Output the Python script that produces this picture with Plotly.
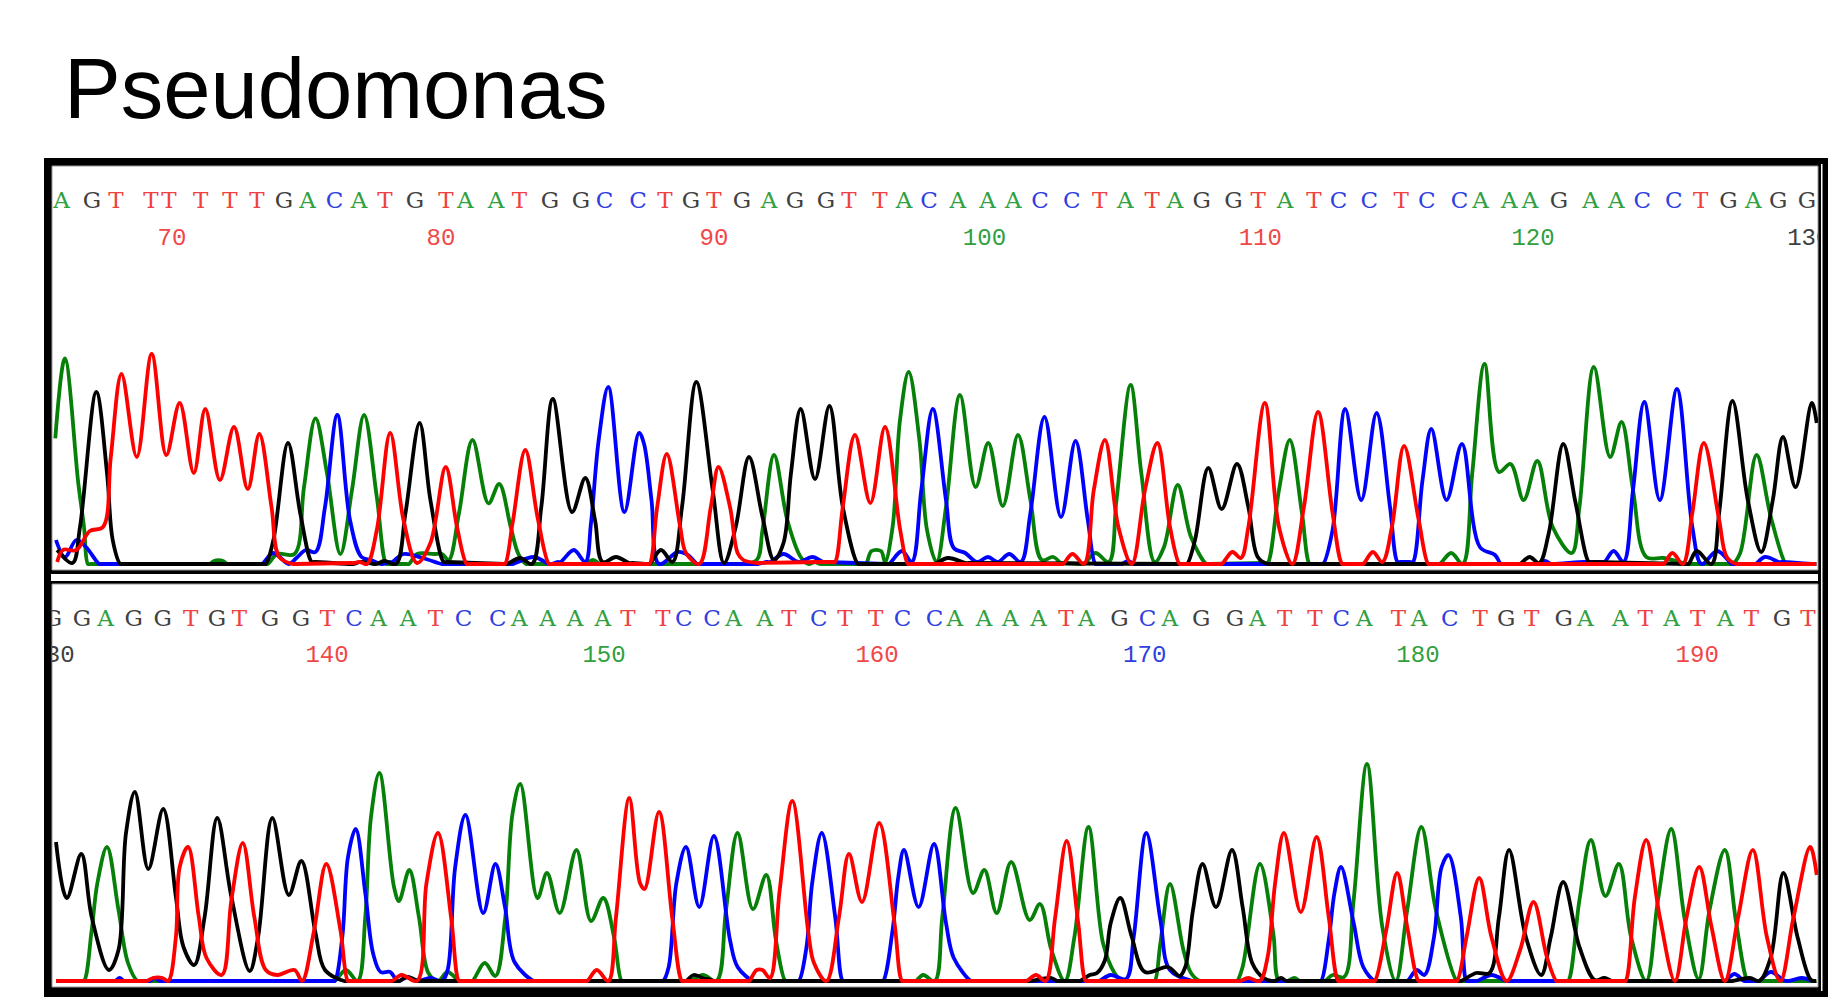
import plotly.graph_objects as go

W, H = 1835, 1004

title_text = "Pseudomonas"

# ---------- upper panel: scan position and signal height per channel ----------
top_green_x = [55.3,64.9,78.3,84,88,210,214,223,227,267.7,277.3,294.5,304,315.5,327,340.4,352,364.1,376.8,386.3,409,417,434,442,448.7,459,472.5,488.5,499.2,510.7,518.4,526,549,585,593,600,740,756.7,762.5,774,787.3,800.7,808.4,815,820,826,866,871.5,881,885,892.6,900,908.7,919.4,927,936.6,946,960,975.6,988.3,1002.8,1018,1030.4,1041.8,1053.3,1061,1084,1095.4,1108.8,1116.5,1130.6,1141.3,1154.7,1164,1177.7,1191,1206.4,1268,1279.5,1290.4,1302.7,1310.5,1442,1453.7,1465.3,1475,1487.4,1502,1513.7,1527,1540.8,1556.3,1575.6,1583.4,1598,1614.4,1626,1637.6,1651,1668.6,1692,1738,1746,1762.6,1777,1792.4,1823]
top_green_h = [125.7,205.7,80.7,37,0,0,3,3,0,0,10,10,77,145.7,90.7,10,74,149,67,0,0,10,10,10,4,51,124,60.7,80,37,10,0,0,0,4,0,0,4,34,109,44,7,0,2,0,0,0,13,13,2,37,144,192,124,34,2,57,169,77,121,58,129,64,4,7,1,0,11,2,64,179,91,2,17,79,27,0,1,74,124,51,0,0,11,0,91,200,92,100,64,103,37,11,57,197,107,142,74,7,6,0,0,11,109,47,0,0]

top_black_x = [57.2,72.5,80,96.3,107,112.7,120.4,265.8,273.4,288,300.2,311.7,354,359.6,376.8,384.4,396,405.5,419.6,430.4,443.7,507,520,532,541.3,552.8,572,585.3,595,602.6,616,629.3,649.6,661,672.5,682,696.3,712.7,724,735.7,749,762.5,774,783.5,791,800.7,815,829.4,842.8,858,934.7,948,965.3,1187,1195,1208.3,1221.7,1237,1248.5,1258,1268,1523,1533,1542.7,1552.4,1567,1579.5,1593,1693.7,1702,1717,1724.7,1738.2,1753.7,1767.3,1779,1789.3,1802,1818.4,1823.4]
top_black_h = [14,1,37,172,91,24,0,0,24,121,51,2,0,2,0,3,0,51,141,64,2,0,6,0,57,165,52,86,44,2,7,1,0,14,2,57,182,74,1,37,107,47,4,21,91,155,85,158,57,0,0,6,1,0,24,96,55,100,57,7,0,0,7,1,31,120,61,2,0,13,0,51,163,64,12,64,127,77,161,141]

top_blue_x = [56,65,76.4,86,99.3,262,273.4,288.8,296.4,306,315.5,325,337.3,350,361.5,371,380.6,392,403.5,422.7,442,512.6,533.7,549,560.5,573.9,585.3,591,598.7,608.3,624.4,639,643.8,651.5,659,678,687.8,697.4,754.8,770,783.5,798.8,812.2,823.7,888.8,902,911.7,921.3,932.8,946,953.8,965.3,976.8,988,997.8,1009.3,1020.8,1030.4,1044.5,1061,1075.5,1087.8,1095.4,1122,1128,1133.7,1324,1333.7,1346.5,1362.7,1378.2,1391.8,1399.5,1415,1424.7,1433.6,1449,1464.6,1482.7,1498,1504,1542,1548.6,1554.4,1591,1608.6,1618,1628,1637.6,1649,1664.7,1682,1697.6,1707,1722.8,1738,1761.5,1771,1785,1823]
top_blue_h = [24,7,24,17,0,0,11,0,6,14,12,57,149,44,7,4,0,2,10,6,0,0,7,0,2,14,2,41,124,177,52,131,121,64,0,12,9,0,0,2,10,2,7,2,0,13,2,74,155,64,16,11,2,7,2,10,2,51,147,47,123,44,0,0,3,0,0,34,155,64,151,57,2,2,84,135,64,120,17,9,0,0,3,0,2,2,13,2,74,162,64,175,37,0,13,0,0,7,2,0]

top_red_x = [57.2,63,76.4,89.8,103,110.8,121.5,136.8,151.7,166.3,179.7,193.8,205.3,219.9,234,247.8,259.3,271.5,279.2,292.6,353.8,360,367,376.8,390.2,403.5,417,430.4,445.7,457,466.7,505,512.6,525.3,537.5,549,649.6,657.2,666.8,680.2,686,699.3,710.8,718.5,730,737.6,743.3,756.7,820,835,842.8,855,870.4,885,900.2,908,1063,1072.4,1084,1093.8,1105,1118.4,1131.8,1145,1157.4,1170,1179.6,1221.7,1232.4,1241,1248.5,1265.2,1279.5,1293,1304.7,1319,1333.7,1343.4,1364.7,1374.4,1384,1393.7,1406,1420.8,1430.5,1668.6,1677.5,1688,1697.6,1709.2,1724.7,1732.4,1742,1823]
top_red_h = [2,14,14,33,37,107,190,107,210,109,161,91,155,84,137,75,130,57,7,0,1,2,0,34,131,44,1,21,97,37,0,0,41,114,47,0,0,57,110,37,11,0,57,97,57,11,4,1,2,2,57,129,61,137,34,0,0,10,0,74,124,37,0,74,121,37,0,0,12,6,37,161,37,0,57,152,51,0,0,12,2,37,118,44,0,0,11,0,51,121,44,7,0,0]

# ---------- lower panel ----------
bot_green_x = [56,84,91.7,97.4,107,118.5,128,137.6,334.7,346,357.6,365.3,371,379.4,394,399,409.3,418.9,428.4,438,447.6,459,472.4,484.7,495.4,505,512.6,520.3,537.5,547,559.7,576.5,591,603.3,614,621.7,690,703,716.5,726,737.6,752.9,766.3,775.9,785.4,915.5,923.2,934.7,942.3,955.7,973,984.4,996.7,1011.2,1029.6,1040,1051.4,1064.8,1074.4,1088.5,1103,1114.5,1122,1154.7,1160.4,1170,1183.4,1191,1200,1237,1242.7,1260.2,1273.7,1279.5,1288,1295,1300.8,1326,1333.7,1345.3,1355,1368.5,1384,1397.6,1409.2,1423.5,1438.2,1459.5,1572,1583.4,1595,1609.7,1623.3,1635.6,1651,1662.8,1676.3,1690,1704,1715,1730.5,1742,1753.7,1823]
bot_green_h = [0,0,51,98,134,71,18,0,0,11,0,64,164,208,94,80,111,64,8,0,9,0,0,18,5,61,168,197,83,108,68,131,60,83,44,0,0,6,0,71,148,72,106,41,0,0,6,0,64,173,88,111,68,119,61,77,31,0,44,154,38,8,0,0,38,97,31,8,0,0,14,117,48,0,0,3,0,0,6,4,81,217,54,0,71,154,71,0,0,81,141,85,117,44,0,81,152,61,2,71,131,58,0,0]

bot_black_x = [56,66.8,81.3,91.7,108.9,118.5,126,134.9,148.3,163.2,175.9,183.5,194.2,204.6,217.2,231.4,249.7,258.1,272.3,288.8,301.4,315.5,325,344.2,399.7,407,418.9,686,693.6,705,716.5,1030.4,1051.4,1057,1080,1089.7,1097,1105,1110.7,1120.3,1131.8,1145,1168,1179.6,1185.3,1193,1202.6,1216,1232,1242.7,1252.4,1264,1275,1281.5,1287,1463.4,1479,1492.4,1502,1512.2,1529.2,1544.7,1554.4,1567,1583.4,1598.9,1608.6,1616.3,1738,1755.7,1765.3,1777,1789.7,1804,1817.6,1823]
bot_black_h = [139,83,127,64,11,31,148,189,112,172,84,34,16,64,163,84,10,44,163,86,120,48,11,0,0,4,0,0,6,2,0,0,3,0,0,6,8,21,58,83,44,9,14,5,14,71,117,74,131,74,18,3,0,3,0,0,8,8,64,131,44,6,44,99,34,1,3,0,0,3,0,24,108,44,1,0]

bot_blue_x = [56,115,119.6,124.2,150,154.8,160,334.7,342.3,348,355.7,365.3,373,380.6,390.2,397.8,407.4,417,430.4,441.8,447.6,455.2,465.5,483.2,495.4,505,514.5,533.7,663,668.7,676.4,686,699.3,713.9,730,737.6,752.9,798.8,806.5,812.2,821.8,835.2,842.8,883,892.6,898.3,904,918.6,934,946,953.8,971,1099,1110.7,1126,1133.7,1146.3,1160.4,1170,1193,1322,1329.8,1335.6,1342.2,1355,1364.7,1376.3,1409.2,1418.9,1426.6,1436.3,1444,1451,1463.4,1469.2,1480,1494.4,1509.8,1730.5,1740.2,1749.8,1765,1777,1792.4,1808,1819.5]
bot_blue_h = [0,0,3,0,0,3,0,0,44,124,152,88,28,9,9,0,4,0,3,0,11,114,166,68,117,74,19,0,0,14,98,134,74,145,41,14,0,0,34,98,148,64,0,0,51,104,131,74,137,58,23,0,0,6,2,44,148,61,11,0,0,41,88,114,58,14,0,0,11,6,44,114,126,64,0,0,6,0,0,7,0,0,9,0,3,0]

bot_red_x = [56,147,152.9,162.5,168.2,175.9,179.7,188.1,198.8,206.5,221.8,231.4,242.8,254.3,265.8,277.3,294.5,302.1,313.6,326.3,340.4,348,392,401.7,417,426.5,438,451.4,459,587.2,596.8,608.3,616,629.3,640,644.6,659,672.5,682,749,756.7,762.5,770,779.7,792.3,808.4,814,826.4,839,849,862,879.2,894.5,902.1,1026.5,1036,1045.6,1055.2,1066.7,1078.2,1085.8,1240,1248.5,1260,1268,1275.6,1284.5,1301.6,1317.5,1329.8,1339.5,1376.3,1388,1399,1409.2,1420.8,1459.5,1469.2,1482,1494.4,1509.8,1523.4,1537,1550.5,1560.2,1630,1639.5,1651,1664.7,1680,1691.8,1704.6,1717,1730.5,1744,1758.8,1773,1786.6,1800,1816.8,1823.4]
bot_red_h = [0,0,3,3,0,44,114,134,64,23,6,81,138,64,11,6,11,0,48,117,51,0,0,6,0,98,148,61,0,0,11,0,64,183,98,92,169,61,0,0,11,11,3,91,180,48,18,0,64,127,79,158,58,0,0,6,0,64,140,58,0,0,3,0,24,98,148,69,144,64,0,0,51,108,54,0,0,44,103,44,0,31,79,24,0,0,84,141,64,0,64,114,54,0,64,131,44,0,64,134,106]

# ---------- base calls and position numbers ----------
top_bases = list("AGTTTTTTGACATGTAATGGCCTGTGAGGTTACAAACCTATAGGTATCCTCCAAAGAACCTGAGG")
top_base_x = [61.6,92,116,151,169,200.7,230,257,284,307.5,334.5,359,385,415,446,465.4,496,519.4,550,581,604.5,638,665,691,714,742,769,795,826,849,880,904,929,958,988,1014,1041,1073,1101,1127,1154,1177,1204,1236,1261,1288,1317,1342,1373,1405,1431,1464,1485,1514,1535,1564,1596,1622,1648,1680,1707,1735,1760,1785,1814]
bot_bases = list("GGAGGTGTGGTCAATCCAAAATTCCAATCTTCCAAAATAGCAGGATTCATACTGTGAATATATGT")
bot_base_x = [53,82,105.6,133.8,162.6,190.7,217,239.4,270,301,327.5,354,378.5,408,435.4,463.6,497.7,519.4,547.5,575,602.7,628,663,683.7,712,733.6,764.7,789,818.7,845,875.6,902.6,934.7,955,984.7,1011,1039.4,1067,1087.6,1121,1149.4,1171.8,1203.5,1237.6,1260,1287.6,1318,1344.7,1368,1402.4,1423,1454,1484.7,1511,1536.5,1569,1590.6,1625.9,1651,1677.6,1704,1731.8,1758,1789,1815]
top_nums = ["70","80","90","100","110","120","130"]
top_num_x = [172,441,714,985,1263,1538,1816]
top_num_col = ["#f04848","#f04848","#f04848","#30a040","#f04848","#30a040","#404040"]
bot_nums = ["130","140","150","160","170","180","190"]
bot_num_x = [53,327,604,877,1146.5,1422,1703.5]
bot_num_col = ["#404040","#f04848","#30a040","#f04848","#3040e0","#30a040","#f04848"]

base_col = {"A": "#30a040", "C": "#3040e0", "G": "#404040", "T": "#f04040"}
GREEN, BLUE, BLACK, RED = "#068008", "#0000ff", "#000000", "#ff0000"

# panel geometry in page pixels
L, R = 52, 1818
P1T, P1B, P2T, P2B = 166, 570, 584, 987
BASE1, BASE2 = 564, 981
CLIP = 1.9
px = lambda v: v / W
py = lambda v: 1 - v / H


def trace_scale(xs):
    """Readings right of 1235 were taken on a slightly wider ruler."""
    return [x if x < 1235 else 1235 + (x - 1235) * 0.98863 for x in xs]


def label_scale(xs):
    """Labels right of 920 were read on a slightly wider ruler."""
    return [x if x < 920 else 920 + (x - 920) * 0.992 for x in xs]


def settle(x, h):
    """Hold long flat baseline runs flat up to the foot of each peak."""
    xo, ho = [], []
    for i in range(len(x)):
        xo.append(x[i]); ho.append(h[i])
        if i + 1 < len(x) and h[i] <= 2 and h[i + 1] <= 2 and x[i + 1] - x[i] > 9:
            xo += [x[i] + 3, x[i + 1] - 3]
            ho += [h[i], h[i + 1]]
    return xo, ho


fig = go.Figure()


def add_channel(x, h, color, ax):
    xs, hs = settle(trace_scale(x), h)
    fig.add_trace(go.Scatter(x=xs, y=hs, mode="lines", xaxis=ax[0], yaxis=ax[1], hoverinfo="skip",
                             line=dict(color=color, width=3.8, shape="spline", smoothing=1.0),
                             showlegend=False))


def add_text(x, yv, labels, colors, size, family, ax):
    fig.add_trace(go.Scatter(x=label_scale(x), y=[yv] * len(x), mode="text", text=labels, xaxis=ax[0], yaxis=ax[1],
                             textposition="middle center", hoverinfo="skip", showlegend=False,
                             textfont=dict(color=colors, size=size, family=family)))


a1, a2 = ("x", "y"), ("x2", "y2")
add_channel(top_green_x, top_green_h, GREEN, a1)
add_channel(top_blue_x, top_blue_h, BLUE, a1)
add_channel(top_black_x, top_black_h, BLACK, a1)
add_channel(top_red_x, top_red_h, RED, a1)
add_channel(bot_green_x, bot_green_h, GREEN, a2)
add_channel(bot_blue_x, bot_blue_h, BLUE, a2)
add_channel(bot_black_x, bot_black_h, BLACK, a2)
add_channel(bot_red_x, bot_red_h, RED, a2)

add_text(top_base_x, 362, top_bases, [base_col[b] for b in top_bases], 23, "DejaVu Serif", a1)
add_text(bot_base_x, 361, bot_bases, [base_col[b] for b in bot_bases], 23, "DejaVu Serif", a2)
add_text(top_num_x, 325, top_nums, top_num_col, 24, "Liberation Mono", a1)
add_text(bot_num_x, 325, bot_nums, bot_num_col, 24, "Liberation Mono", a2)


def rect(x0, y0, x1, y1, fill, line=None):
    return dict(type="rect", xref="paper", yref="paper", layer="below", x0=px(x0), x1=px(x1), y0=py(y1), y1=py(y0),
                fillcolor=fill, line=dict(width=1 if line else 0, color=line or fill))


shapes = [
    rect(44, 158, 1828, 997, "#000000"),
    rect(51, 574, 1818, 581, "#ffffff"),
    rect(1821, 164, 1822.5, 991, "#ffffff"),
    rect(L, P1T, R, P1B, "#ffffff", "#999999"),
    rect(L, P2T, R, P2B, "#ffffff", "#999999"),
]

axis = dict(visible=False, fixedrange=True)
fig.update_layout(
    width=W, height=H, margin=dict(l=0, r=0, t=0, b=0, pad=0),
    paper_bgcolor="#ffffff", plot_bgcolor="rgba(0,0,0,0)", shapes=shapes, showlegend=False,
    title=dict(text=title_text, x=64 / W, xanchor="left", xref="paper", y=py(88), yanchor="middle", yref="paper",
               font=dict(family="Liberation Sans", size=85, color="#000000"), automargin=False),
    xaxis=dict(axis, domain=[px(L), px(R)], range=[L, R], anchor="y"),
    yaxis=dict(axis, domain=[py(BASE1 + CLIP), py(P1T)], range=[-CLIP, BASE1 - P1T], anchor="x"),
    xaxis2=dict(axis, domain=[px(L), px(R)], range=[L, R], anchor="y2"),
    yaxis2=dict(axis, domain=[py(BASE2 + CLIP), py(P2T)], range=[-CLIP, BASE2 - P2T], anchor="x2"),
)

fig.write_html("out.html", config={"displayModeBar": False},
               post_script="document.body.style.margin='0';document.body.style.overflow='hidden';")
